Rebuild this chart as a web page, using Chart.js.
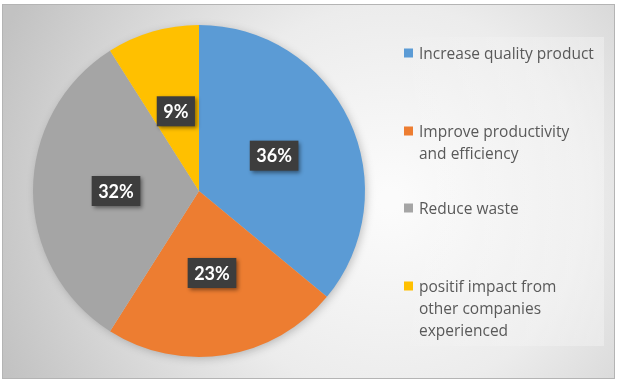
<!DOCTYPE html>
<html>
<head>
<meta charset="utf-8">
<script src="https://cdn.jsdelivr.net/npm/chart.js@4.4.1/dist/chart.umd.min.js"></script>
<style>
  html, body { margin: 0; padding: 0; background: #fff; }
  #wrap { width: 622px; height: 382px; position: relative; }
</style>
</head>
<body>
<div id="wrap"><canvas id="pie" width="622" height="382"></canvas></div>
<script>
/* ---- Data ---- */
const categories = [
  "Increase quality product",
  "Improve productivity and efficiency",
  "Reduce waste",
  "positif impact from other companies experienced",
];
// wrapped legend lines as they appear in the picture
const legendLines = [
  ["Increase quality product"],
  ["Improve productivity", "and efficiency"],
  ["Reduce waste"],
  ["positif impact from", "other companies", "experienced"],
];
const shares = [36, 23, 32, 9];
const sliceColors = ["#5b9bd5", "#ed7d31", "#a5a5a5", "#ffc000"];

/* ---- Theme ---- */
const labelFont = "Lato, 'Open Sans', sans-serif";
const legendFont = "'Open Sans', Lato, sans-serif";
const legendColor = "#595959";

/* ---- Plugins ---- */

// framed gradient background + lighter legend panel
const backdrop = {
  id: "backdrop",
  beforeDraw(chart) {
    const { ctx, width, height } = chart;
    ctx.save();
    ctx.fillStyle = "#ffffff";
    ctx.fillRect(0, 0, width, height);
    const g = ctx.createRadialGradient(390, 200, 10, 390, 200, 420);
    g.addColorStop(0, "#fbfbfb");
    g.addColorStop(0.45, "#ececec");
    g.addColorStop(1, "#c2c2c2");
    ctx.fillStyle = g;
    ctx.fillRect(2, 4, 613, 375);
    ctx.strokeStyle = "#b4b4b4";
    ctx.lineWidth = 1;
    ctx.strokeRect(2.5, 4.5, 612, 374);
    const p = ctx.createLinearGradient(385, 0, 604, 0);
    p.addColorStop(0, "rgba(255,255,255,0)");
    p.addColorStop(1, "rgba(255,255,255,0.3)");
    ctx.fillStyle = p;
    ctx.fillRect(385, 37, 219, 309);
    ctx.restore();
  },
  beforeDatasetsDraw(chart) {
    // soft shadow behind the pie
    const arc = chart.getDatasetMeta(0).data[0];
    if (!arc) return;
    const { ctx } = chart;
    ctx.save();
    ctx.shadowColor = "rgba(0,0,0,0.25)";
    ctx.shadowBlur = 10;
    ctx.shadowOffsetX = 2;
    ctx.shadowOffsetY = 2;
    ctx.beginPath();
    ctx.arc(arc.x, arc.y, arc.outerRadius - 1, 0, Math.PI * 2);
    ctx.fillStyle = "#cccccc";
    ctx.fill();
    ctx.restore();
  },
};

// dark boxed percentage labels at half radius
const boxLabels = {
  id: "boxLabels",
  afterDatasetsDraw(chart) {
    const { ctx } = chart;
    const meta = chart.getDatasetMeta(0);
    ctx.save();
    ctx.font = "bold 18px " + labelFont;
    ctx.textAlign = "center";
    ctx.textBaseline = "middle";
    meta.data.forEach((arc, i) => {
      const mid = (arc.startAngle + arc.endAngle) / 2;
      const r = arc.outerRadius / 2;
      const x = arc.x + Math.cos(mid) * r;
      const y = arc.y + Math.sin(mid) * r;
      const text = shares[i] + "%";
      const w = ctx.measureText(text).width + 13;
      const h = 30;
      ctx.save();
      ctx.shadowColor = "rgba(0,0,0,0.45)";
      ctx.shadowBlur = 4;
      ctx.shadowOffsetX = 2;
      ctx.shadowOffsetY = 2;
      ctx.fillStyle = "#3d3d3d";
      ctx.fillRect(x - w / 2, y - h / 2, w, h);
      ctx.restore();
      ctx.fillStyle = "#ffffff";
      ctx.fillText(text, x, y + 1);
    });
    ctx.restore();
  },
};

// right-hand legend with wrapped lines
const sideLegend = {
  id: "sideLegend",
  afterDraw(chart) {
    const { ctx } = chart;
    const tops = [53, 131, 208, 286];
    ctx.save();
    ctx.font = "15.5px " + legendFont;
    ctx.textBaseline = "middle";
    ctx.textAlign = "left";
    legendLines.forEach((lines, i) => {
      ctx.fillStyle = sliceColors[i];
      ctx.fillRect(404, tops[i] - 4.5, 9, 9);
      ctx.fillStyle = legendColor;
      lines.forEach((ln, j) => ctx.fillText(ln, 419, tops[i] + 1.5 + j * 22));
    });
    ctx.restore();
  },
};

/* ---- Chart ---- */
new Chart(document.getElementById("pie"), {
  type: "pie",
  data: {
    labels: categories,
    datasets: [
      {
        data: shares,
        backgroundColor: sliceColors,
        borderWidth: 0,
      },
    ],
  },
  options: {
    responsive: false,
    animation: false,
    layout: { padding: { left: 33, right: 257, top: 25, bottom: 25 } },
    plugins: {
      legend: { display: false },
      tooltip: { enabled: false },
    },
  },
  plugins: [backdrop, boxLabels, sideLegend],
});
</script>
</body>
</html>
